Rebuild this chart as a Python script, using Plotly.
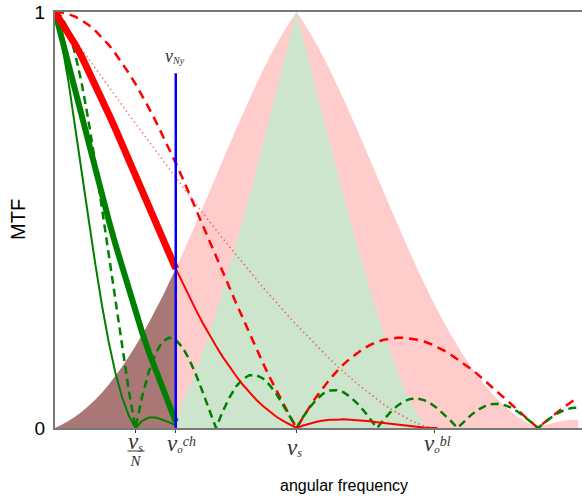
import plotly.graph_objects as go

# tick positions (in units of the sampling frequency nu_s)
nu_s_over_N = 0.3333
nu_o_ch = 0.5
nu_s = 1.0
nu_o_bl = 1.57
nu_ny = 0.5
ny_line_top = 0.853

freq = [0, 0.0278, 0.0556, 0.0833, 0.1111, 0.1389, 0.1667, 0.1944, 0.2222, 0.25,
        0.2778, 0.3056, 0.3333, 0.3611, 0.3889, 0.4167, 0.4444, 0.4722, 0.5, 0.5278,
        0.5556, 0.5833, 0.6111, 0.6389, 0.6667, 0.6944, 0.7222, 0.75, 0.7778, 0.8056,
        0.8333, 0.8611, 0.8889, 0.9167, 0.9444, 0.9722, 1, 1.0278, 1.0556, 1.0833,
        1.1111, 1.1389, 1.1667, 1.1944, 1.2222, 1.25, 1.2778, 1.3056, 1.3333, 1.3611,
        1.3889, 1.4167, 1.4444, 1.4722, 1.5, 1.5278, 1.5556, 1.5833, 1.6111, 1.6389,
        1.6667, 1.6944, 1.7222, 1.75, 1.7778, 1.8056, 1.8333, 1.8611, 1.8889, 1.9167,
        1.9444, 1.9722, 2, 2.0278, 2.0556, 2.0833, 2.1111, 2.1389, 2.1667]

# red dashed: aperture MTF (bl)
aperture_bl = [1, 0.999, 0.995, 0.989, 0.98, 0.969, 0.955, 0.939, 0.921, 0.9,
               0.878, 0.853, 0.827, 0.799, 0.769, 0.738, 0.705, 0.672, 0.637, 0.601,
               0.564, 0.527, 0.489, 0.452, 0.413, 0.375, 0.338, 0.3, 0.263, 0.227,
               0.191, 0.156, 0.122, 0.09, 0.059, 0.029, 0, 0.027, 0.052, 0.076,
               0.098, 0.118, 0.136, 0.153, 0.167, 0.18, 0.191, 0.2, 0.207, 0.212,
               0.215, 0.217, 0.217, 0.215, 0.212, 0.208, 0.202, 0.194, 0.186, 0.176,
               0.165, 0.154, 0.142, 0.129, 0.115, 0.101, 0.087, 0.072, 0.058, 0.043,
               0.028, 0.014, 0, 0.014, 0.027, 0.04, 0.052, 0.063, 0.073]

# green dashed: aperture MTF (ch)
aperture_ch = [1, 0.989, 0.955, 0.9, 0.827, 0.738, 0.637, 0.527, 0.413, 0.3,
               0.191, 0.09, 0, 0.076, 0.136, 0.18, 0.207, 0.217, 0.212, 0.194,
               0.165, 0.129, 0.087, 0.043, 0, 0.04, 0.073, 0.1, 0.118, 0.127,
               0.127, 0.119, 0.103, 0.082, 0.056, 0.028, 0, 0.027, 0.05, 0.069,
               0.083, 0.09, 0.091, 0.086, 0.075, 0.06, 0.042, 0.021, 0, 0.02,
               0.038, 0.053, 0.064, 0.07, 0.071, 0.067, 0.059, 0.047, 0.033, 0.017,
               0, 0.016, 0.031, 0.043, 0.052, 0.057, 0.058, 0.055, 0.049, 0.039,
               0.027, 0.014, 0, 0.014, 0.026, 0.036, 0.044, 0.048, 0.049]

# red dotted: optics MTF (bl)
optics_bl = [1, 0.977, 0.955, 0.932, 0.91, 0.888, 0.865, 0.843, 0.82, 0.798,
             0.776, 0.754, 0.732, 0.71, 0.688, 0.666, 0.644, 0.623, 0.601, 0.58,
             0.559, 0.538, 0.517, 0.497, 0.476, 0.456, 0.436, 0.416, 0.396, 0.377,
             0.357, 0.338, 0.32, 0.301, 0.283, 0.265, 0.248, 0.231, 0.214, 0.197,
             0.181, 0.165, 0.15, 0.135, 0.121, 0.107, 0.094, 0.081, 0.069, 0.057,
             0.046, 0.036, 0.027, 0.018, 0.011, 0.005, 0.001, 0]

# red solid: total MTF (bl)
total_bl = [1, 0.976, 0.95, 0.922, 0.892, 0.86, 0.826, 0.791, 0.755, 0.719,
            0.681, 0.643, 0.605, 0.567, 0.529, 0.492, 0.455, 0.418, 0.383, 0.349,
            0.315, 0.284, 0.253, 0.224, 0.197, 0.171, 0.147, 0.125, 0.104, 0.085,
            0.068, 0.053, 0.039, 0.027, 0.017, 0.008, 0, 0.006, 0.011, 0.015,
            0.018, 0.02, 0.02, 0.021, 0.02, 0.019, 0.018, 0.016, 0.014, 0.012,
            0.01, 0.008, 0.006, 0.004, 0.002, 0.001, 0, 0]

# green thick: optics MTF (ch), up to Nyquist
optics_ch = [1, 0.936, 0.872, 0.808, 0.745, 0.682, 0.62, 0.559, 0.5, 0.442,
             0.386, 0.331, 0.279, 0.229, 0.182, 0.138, 0.098, 0.06, 0.015]

# green thin: total MTF (ch), up to Nyquist
total_ch = [1, 0.926, 0.833, 0.727, 0.616, 0.503, 0.395, 0.295, 0.207, 0.133,
            0.074, 0.03, 0, 0.017, 0.025, 0.025, 0.02, 0.014, 0.007]

# pink shaded: aliased total MTF (bl) around nu_s
alias_bl = [0, 0.008, 0.017, 0.027, 0.039, 0.053, 0.068, 0.085, 0.104, 0.125,
            0.147, 0.171, 0.197, 0.224, 0.253, 0.284, 0.315, 0.349, 0.383, 0.418,
            0.455, 0.492, 0.529, 0.567, 0.605, 0.643, 0.681, 0.719, 0.755, 0.791,
            0.826, 0.86, 0.892, 0.922, 0.95, 0.976, 1, 0.976, 0.95, 0.922,
            0.892, 0.86, 0.826, 0.791, 0.755, 0.719, 0.681, 0.643, 0.605, 0.567,
            0.529, 0.492, 0.455, 0.418, 0.383, 0.349, 0.315, 0.284, 0.253, 0.224,
            0.197, 0.171, 0.147, 0.125, 0.104, 0.085, 0.068, 0.053, 0.039, 0.027,
            0.017, 0.008, 0, 0.006, 0.011, 0.015, 0.018, 0.02, 0.02]

# green shaded: aliased optics MTF (ch) around nu_s, from nu_ny onwards
alias_ch = [0, 0.063, 0.098, 0.138, 0.182, 0.229, 0.279, 0.331, 0.386, 0.442,
            0.5, 0.559, 0.62, 0.682, 0.745, 0.808, 0.872, 0.936, 1, 0.936,
            0.872, 0.808, 0.745, 0.682, 0.62, 0.559, 0.5, 0.442, 0.386, 0.331,
            0.279, 0.229, 0.182, 0.138, 0.098, 0.063, 0.033, 0.01, 0]

i_ny = freq.index(nu_ny)
x_alias_ch = freq[i_ny:i_ny + len(alias_ch)]

PINK = 'rgb(255,204,204)'
BROWN = 'rgb(170,119,119)'
LGREEN = 'rgb(204,229,204)'
RED = 'rgb(255,0,0)'
GREEN = 'rgb(0,128,0)'
SERIF = 'Liberation Serif'
SANS = 'Liberation Sans'
TXT = '#333'

fig = go.Figure()
fig.add_trace(go.Scatter(x=freq, y=alias_bl, fill='tozeroy', mode='none', fillcolor=PINK))
fig.add_trace(go.Scatter(x=freq[:i_ny + 1], y=alias_bl[:i_ny + 1], fill='tozeroy', mode='none', fillcolor=BROWN))
fig.add_trace(go.Scatter(x=x_alias_ch, y=alias_ch, fill='tozeroy', mode='none', fillcolor=LGREEN))
fig.add_trace(go.Scatter(x=freq[:len(optics_bl)], y=optics_bl, mode='lines',
                         line=dict(color='rgba(255,0,0,0.55)', width=1.5, dash='1.5px,3px')))
fig.add_trace(go.Scatter(x=freq, y=aperture_bl, mode='lines', line=dict(color=RED, width=2.5, dash='9px,6px')))
fig.add_trace(go.Scatter(x=freq, y=aperture_ch, mode='lines', line=dict(color=GREEN, width=2.5, dash='8px,5px')))
fig.add_trace(go.Scatter(x=freq[:len(total_bl)], y=total_bl, mode='lines', line=dict(color=RED, width=2)))
fig.add_trace(go.Scatter(x=freq[:len(total_ch)], y=total_ch, mode='lines', line=dict(color=GREEN, width=2)))
fig.add_trace(go.Scatter(x=freq[:len(optics_ch)], y=optics_ch, mode='lines', line=dict(color=GREEN, width=6)))
fig.add_trace(go.Scatter(x=freq[:i_ny + 1], y=total_bl[:i_ny + 1], mode='lines', line=dict(color=RED, width=7)))
fig.add_trace(go.Scatter(x=[nu_ny, nu_ny], y=[0, ny_line_top], mode='lines', line=dict(color='rgb(0,0,255)', width=2.5)))

fig.update_layout(width=582, height=497, margin=dict(l=55, r=0, t=12, b=69),
                  plot_bgcolor='white', paper_bgcolor='white', showlegend=False)
fig.update_xaxes(range=[0, 2.182], showgrid=False, zeroline=False, showline=True, linecolor='rgb(120,120,120)',
                 linewidth=2, mirror=True, tickvals=[nu_s_over_N, nu_o_ch, nu_s, nu_o_bl], showticklabels=False,
                 ticks='outside', ticklen=3, tickcolor='rgb(60,60,60)', automargin=False)
fig.update_yaxes(range=[0, 1], showgrid=False, zeroline=False, showline=True, linecolor='rgb(120,120,120)', linewidth=2,
                 tickvals=[0, 1], ticktext=['0', '1'], ticks='', ticklabelstandoff=4, automargin=False,
                 tickfont=dict(family=SANS, size=19, color='black'))

AX_Y = 428  # pixel row of the x axis


def sz(text, px):
    return '<span style="font-size:%dpx">%s</span>' % (px, text)


def lab(xval, dx, py, text, size=11):
    fig.add_annotation(x=xval, xref='x', xshift=dx, y=0, yref='paper', yshift=AX_Y - py,
                       text=text, showarrow=False, xanchor='center', yanchor='middle',
                       font=dict(family=SERIF, size=size, color=TXT))


NU = sz('<i>ν</i>', 23)
# nu_s / N  (fraction)
lab(nu_s_over_N, 0, 449, NU + '<sub>' + sz('<i>s</i>', 12) + '</sub><br>' + sz('<i>N</i>', 15), size=13)
fig.add_shape(type='line', xref='x', yref='paper', xsizemode='pixel', xanchor=nu_s_over_N,
              x0=-8, x1=9, y0=(AX_Y - 451) / 416, y1=(AX_Y - 451) / 416, line=dict(color=TXT, width=1))
# nu_o^ch
lab(nu_o_ch, 6, 443, NU + '<sub>' + sz('<i>o</i>', 11) + '</sub><sup>' + sz('<i>ch</i>', 14) + '</sup>')
# nu_s
lab(nu_s, -2, 447, NU + '<sub>' + sz('<i>s</i>', 12) + '</sub>')
# nu_o^bl
lab(nu_o_bl, 3, 443, NU + '<sub>' + sz('<i>o</i>', 11) + '</sub><sup>' + sz('<i>bl</i>', 14) + '</sup>')
# nu_Ny above the Nyquist line
fig.add_annotation(x=nu_ny, y=0.895, xshift=-1, text=sz('<i>ν</i>', 18) + '<sub>' + sz('<i>Ny</i>', 10) + '</sub>',
                   showarrow=False, font=dict(family=SERIF, size=11, color=TXT))

# axis titles
fig.add_annotation(x=319 / 582, xref='paper', y=0, yref='paper', yshift=AX_Y - 485, text='angular frequency',
                   showarrow=False, xanchor='center', yanchor='middle', font=dict(family=SANS, size=16, color='black'))
fig.add_annotation(x=0, xref='paper', xshift=18 - 55, y=0.5, yref='paper', text='MTF',
                   textangle=-90, showarrow=False, xanchor='center', yanchor='middle',
                   font=dict(family=SANS, size=20, color='black'))

fig.write_html('out.html')
